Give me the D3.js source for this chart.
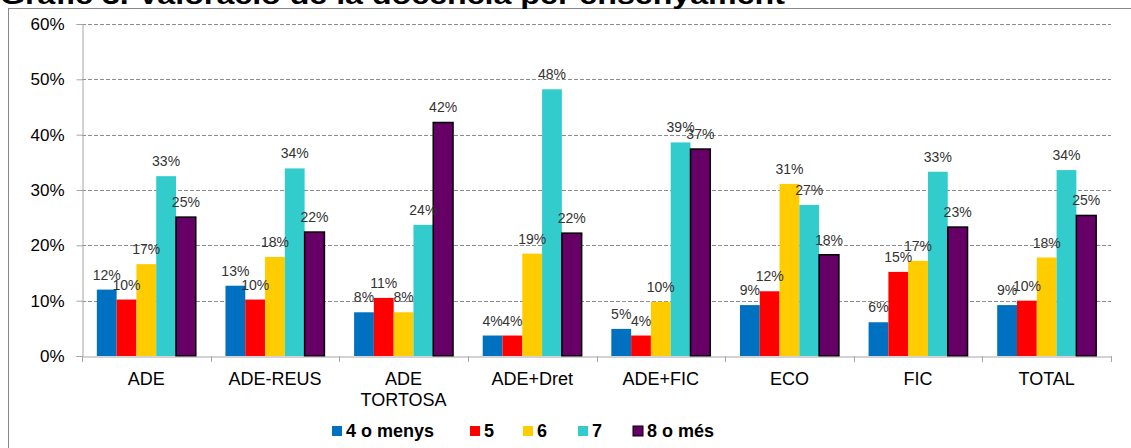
<!DOCTYPE html>
<html>
<head>
<meta charset="utf-8">
<script src="https://cdn.jsdelivr.net/npm/d3@7"></script>
<style>
  body { margin: 0; background: #fff; }
  svg { display: block; font-family: "Liberation Sans", Arial, sans-serif; }
</style>
</head>
<body>
<div id="chart"></div>
<script>
// Data
const categories = ["ADE", "ADE-REUS", "ADE TORTOSA", "ADE+Dret", "ADE+FIC", "ECO", "FIC", "TOTAL"];
const seriesNames = ["4 o menys", "5", "6", "7", "8 o més"];
const s4 = [0.120, 0.127, 0.079, 0.037, 0.049, 0.092, 0.061, 0.092];
const s5 = [0.102, 0.102, 0.105, 0.037, 0.037, 0.117, 0.152, 0.100];
const s6 = [0.166, 0.179, 0.079, 0.185, 0.098, 0.311, 0.172, 0.178];
const s7 = [0.325, 0.339, 0.237, 0.482, 0.386, 0.273, 0.333, 0.336];
const s8 = [0.251, 0.224, 0.422, 0.222, 0.374, 0.183, 0.233, 0.254];
const yTicks = [0, 0.1, 0.2, 0.3, 0.4, 0.5, 0.6];

const seriesValues = [s4, s5, s6, s7, s8];
const colors = ["#0070C0", "#FF0000", "#FFCC00", "#33CCCC", "#660066"];

const width = 1131, height = 448;
const margin = { top: 24, right: 20, bottom: 92, left: 82 };

let svg = d3.select("#chart")
    .append("svg")
    .attr("width", width)
    .attr("height", height);

// Chart border
svg.append("rect")
    .attr("x", 8.5).attr("y", 8.5)
    .attr("width", 1140).attr("height", 460)
    .attr("fill", "none")
    .attr("stroke", "#888");

// Title (cut at top like the reference)
svg.append("text")
    .attr("x", 0)
    .attr("y", 4)
    .attr("textLength", 785)
    .attr("lengthAdjust", "spacingAndGlyphs")
    .style("font-size", "25px")
    .style("font-weight", "bold")
    .text("Gràfic 3. Valoració de la docència per ensenyament");

// Scales
let x0 = d3.scaleBand()
    .domain(categories)
    .range([margin.left, width - margin.right])
    .padding(0);

let x1 = d3.scaleBand()
    .domain(seriesNames)
    .range([0, x0.bandwidth()])
    .paddingInner(0)
    .paddingOuter(0.75);

let yScale = d3.scaleLinear()
    .domain([0, 0.6])
    .range([height - margin.bottom, margin.top]);

// Gridlines
svg.append("g")
    .selectAll("line")
    .data(yTicks.filter(d => d > 0))
    .enter().append("line")
    .attr("x1", margin.left)
    .attr("x2", width - margin.right)
    .attr("y1", d => Math.round(yScale(d)) + 0.5)
    .attr("y2", d => Math.round(yScale(d)) + 0.5)
    .attr("stroke", "#8c8c8c")
    .attr("stroke-dasharray", "4,2");

// Y axis
let yAxis = svg.append("g")
    .attr("transform", `translate(${margin.left + 0.5},0)`)
    .call(d3.axisLeft(yScale).tickValues(yTicks).tickFormat(d3.format(".0%")).tickSize(6).tickPadding(12));
yAxis.select(".domain").attr("stroke", "#a6a6a6");
yAxis.selectAll(".tick line").attr("stroke", "#a6a6a6");
yAxis.selectAll("text").style("font-size", "17px").style("fill", "#000")
    .attr("font-family", null);

// Bars
const groups = svg.append("g")
    .selectAll("g")
    .data(categories)
    .enter().append("g")
    .attr("transform", d => `translate(${x0(d)},0)`);

groups.selectAll("rect")
    .data((c, i) => seriesNames.map((s, j) => ({ series: s, j: j, value: seriesValues[j][i] })))
    .enter().append("rect")
    .attr("x", d => x1(d.series))
    .attr("y", d => yScale(d.value))
    .attr("width", x1.bandwidth())
    .attr("height", d => yScale(0) - yScale(d.value))
    .attr("fill", d => colors[d.j])
    .attr("stroke", d => d.j === 4 ? "#000" : "none")
    .attr("stroke-width", 1.5);

// Data labels
groups.selectAll("text.lbl")
    .data((c, i) => seriesNames.map((s, j) => ({ series: s, j: j, value: seriesValues[j][i] })))
    .enter().append("text")
    .attr("class", "lbl")
    .attr("x", d => x1(d.series) + x1.bandwidth() / 2)
    .attr("y", d => yScale(d.value) - 10)
    .attr("text-anchor", "middle")
    .style("font-size", "14px")
    .style("fill", "#333")
    .text(d => Math.round(d.value * 100) + "%");

// X axis
let xAxis = svg.append("g")
    .attr("transform", `translate(0,${yScale(0) + 0.5})`)
    .call(d3.axisBottom(x0).tickSize(0).tickFormat(""));
xAxis.select(".domain").attr("stroke", "#a6a6a6");

// Separator ticks between categories
svg.append("g")
    .selectAll("line")
    .data(categories.concat(["end"]))
    .enter().append("line")
    .attr("x1", (d, i) => Math.round(margin.left + i * x0.step()) + 0.5)
    .attr("x2", (d, i) => Math.round(margin.left + i * x0.step()) + 0.5)
    .attr("y1", yScale(0))
    .attr("y2", yScale(0) + 6)
    .attr("stroke", "#a6a6a6");

// Category labels (ADE TORTOSA wraps on two lines)
svg.append("g")
    .selectAll("text")
    .data(categories)
    .enter().append("text")
    .attr("x", d => x0(d) + x0.bandwidth() / 2)
    .attr("y", 385)
    .attr("text-anchor", "middle")
    .style("font-size", "18px")
    .each(function(d) {
        const lines = d === "ADE TORTOSA" ? d.split(" ") : [d];
        lines.forEach((l, k) => {
            d3.select(this).append("tspan")
                .attr("x", x0(d) + x0.bandwidth() / 2)
                .attr("dy", k === 0 ? 0 : 21)
                .text(l);
        });
    });

// Legend
const legendX = [332, 470, 523, 578, 633];
const legend = svg.selectAll(".legend")
    .data(seriesNames)
    .enter().append("g")
    .attr("class", "legend")
    .attr("transform", (d, i) => `translate(${legendX[i]},426)`);

legend.append("rect")
    .attr("width", 10)
    .attr("height", 10)
    .attr("fill", (d, i) => colors[i])
    .attr("stroke", (d, i) => i === 4 ? "#000" : "none");

legend.append("text")
    .attr("x", 14)
    .attr("y", 11)
    .style("font-size", "18px")
    .style("font-weight", "bold")
    .text(d => d);
</script>
</body>
</html>
